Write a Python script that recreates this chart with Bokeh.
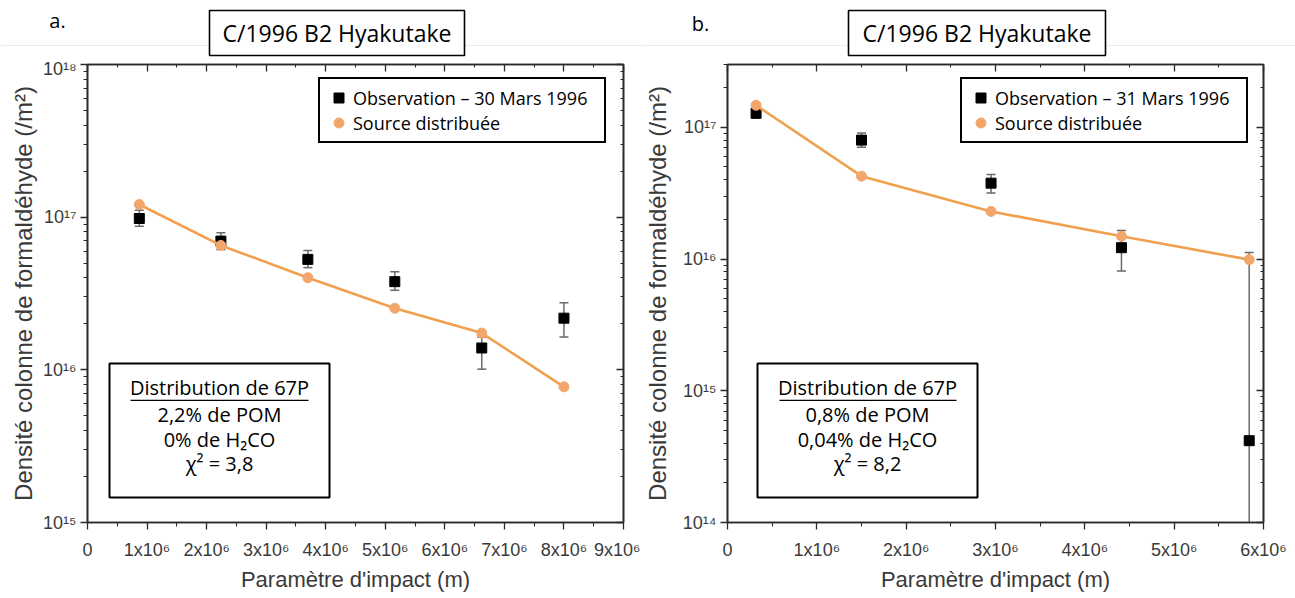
from bokeh.plotting import figure
from bokeh.layouts import row, column
from bokeh.models import (LinearAxis, LogAxis, FixedTicker, Legend, LegendItem, Label,
                          BoxAnnotation, ColumnDataSource, Span)
from bokeh.embed import file_html
from bokeh.resources import INLINE

# ---------------- shared texts ----------------
TITLE = "C/1996 B2 Hyakutake"
X_LABEL = "Paramètre d'impact (m)"
Y_LABEL = "Densité colonne de formaldéhyde (/m²)"
MODEL_NAME = "Source distribuée"

# ---------------- panel a : 30 Mars 1996 ----------------
a_panel_tag = "a."
a_obs_name = "Observation – 30 Mars 1996"
a_x = [0.87e6, 2.24e6, 3.70e6, 5.16e6, 6.62e6, 8.00e6]
a_obs = [9.8e16, 6.97e16, 5.29e16, 3.78e16, 1.39e16, 2.18e16]
a_obs_hi = [1.11e17, 7.9e16, 6.05e16, 4.39e16, 1.64e16, 2.75e16]
a_obs_lo = [8.73e16, 6.15e16, 4.67e16, 3.32e16, 1.01e16, 1.64e16]
a_model = [1.21e17, 6.53e16, 4.01e16, 2.53e16, 1.74e16, 7.74e15]
a_x_ticks = [0.0, 1e6, 2e6, 3e6, 4e6, 5e6, 6e6, 7e6, 8e6, 9e6]
a_x_tick_labels = ["0", "1x10⁶", "2x10⁶", "3x10⁶", "4x10⁶", "5x10⁶", "6x10⁶", "7x10⁶", "8x10⁶", "9x10⁶"]
a_y_ticks = [1e15, 1e16, 1e17, 1e18]
a_y_tick_labels = ["10¹⁵", "10¹⁶", "10¹⁷", "10¹⁸"]
a_box_lines = ["Distribution de 67P", "2,2% de POM", "0% de H₂CO", "χ² = 3,8"]

# ---------------- panel b : 31 Mars 1996 ----------------
b_panel_tag = "b."
b_obs_name = "Observation – 31 Mars 1996"
b_x = [0.32e6, 1.50e6, 2.95e6, 4.41e6, 5.84e6]
b_obs = [1.28e17, 8.0e16, 3.77e16, 1.22e16, 4.18e14]
b_obs_hi = [1.38e17, 9.06e16, 4.38e16, 1.65e16, 1.12e16]
b_obs_lo = [1.17e17, 7.05e16, 3.18e16, 8.1e15, 1e12]
b_model = [1.47e17, 4.26e16, 2.30e16, 1.49e16, 9.9e15]
b_x_ticks = [0.0, 1e6, 2e6, 3e6, 4e6, 5e6, 6e6]
b_x_tick_labels = ["0", "1x10⁶", "2x10⁶", "3x10⁶", "4x10⁶", "5x10⁶", "6x10⁶"]
b_y_ticks = [1e14, 1e15, 1e16, 1e17]
b_y_tick_labels = ["10¹⁴", "10¹⁵", "10¹⁶", "10¹⁷"]
b_box_lines = ["Distribution de 67P", "0,8% de POM", "0,04% de H₂CO", "χ² = 8,2"]

ORANGE_LINE = "#F0A04E"
ORANGE_DOT = "#F3A66C"
ERR = "#6a6a6a"
AX = "#2a2a2a"
TXT = "#3a3a3a"
SANS = "Liberation Sans"
CAL = "Open Sans"

HEADER_H = 58
PANEL_H = 540


def minor_between(ticks, steps):
    out = []
    for i in range(len(ticks) - 1):
        a, b = ticks[i], ticks[i + 1]
        for k in range(1, steps):
            out.append(a + (b - a) * k / steps)
    return out


def log_minor(ticks):
    out = []
    for t in ticks[:-1]:
        for m in range(2, 10):
            out.append(t * m)
    return out


def style_axis(ax, ticker, overrides=None, tick_in=False):
    ax.ticker = ticker
    ax.axis_line_color = AX
    ax.axis_line_width = 1.6
    ax.major_tick_line_color = AX
    ax.minor_tick_line_color = AX
    ax.major_tick_line_width = 1.3
    ax.minor_tick_line_width = 1.1
    if tick_in:
        ax.major_tick_in = 7
        ax.major_tick_out = 0
        ax.minor_tick_in = 3
        ax.minor_tick_out = 0
        ax.major_label_text_alpha = 0
        ax.major_label_text_font_size = "1px"
        ax.major_label_standoff = 0
    else:
        ax.major_tick_in = 0
        ax.major_tick_out = 7
        ax.minor_tick_in = 0
        ax.minor_tick_out = 4
        ax.major_label_text_font = SANS
        ax.major_label_text_font_size = "18px"
        ax.major_label_text_color = TXT
        if overrides:
            ax.major_label_overrides = overrides


def make_header(width, box_lr, tag, tag_x, tag_y):
    h = figure(width=width, height=HEADER_H, x_range=(0, width), y_range=(0, HEADER_H),
               x_axis_type=None, y_axis_type=None, output_backend="svg",
               toolbar_location=None, min_border=0)
    h.grid.visible = False
    h.outline_line_color = None
    h.background_fill_color = "white"
    h.border_fill_color = "white"
    h.add_layout(Span(location=13, dimension="width", line_color="#ececec", line_width=1))
    bl, br = box_lr
    h.add_layout(BoxAnnotation(left=bl, right=br, bottom=HEADER_H - 55, top=HEADER_H - 10,
                               left_units="screen", right_units="screen",
                               bottom_units="screen", top_units="screen",
                               fill_color="white", fill_alpha=1,
                               line_color="black", line_width=1.6, line_alpha=1))
    h.add_layout(Label(x=(bl + br) / 2, y=HEADER_H - 32.5, x_units="screen", y_units="screen",
                       text=TITLE, text_align="center", text_baseline="middle",
                       text_font=CAL, text_font_size="23px", text_color="black"))
    h.add_layout(Label(x=tag_x, y=HEADER_H - tag_y, x_units="screen", y_units="screen",
                       text=tag, text_align="center", text_baseline="middle",
                       text_font=CAL, text_font_size="20px", text_color="black"))
    return h


def make_panel(width, min_right, xr, yr, xs, obs, hi, lo, model, xt, xtl, yt, ytl,
               obs_name, box_lines, ylab_standoff, legend_x, box_lr, underline_lr):
    p = figure(width=width, height=PANEL_H, x_range=xr, y_range=yr, y_axis_type="log",
               output_backend="svg", toolbar_location=None,
               min_border_left=87, min_border_right=min_right,
               min_border_top=6, min_border_bottom=76)
    p.xgrid.visible = False
    p.ygrid.visible = False
    p.outline_line_color = AX
    p.outline_line_width = 1.6
    p.background_fill_color = "white"
    p.border_fill_color = "white"

    xticker = FixedTicker(ticks=xt, minor_ticks=minor_between(xt, 2))
    yticker = FixedTicker(ticks=yt, minor_ticks=log_minor(yt + [yt[-1] * 10]))

    xa = p.xaxis[0]
    style_axis(xa, xticker, dict(zip(xt, xtl)))
    xa.major_label_standoff = 10
    xa.axis_label = X_LABEL
    xa.axis_label_text_font = SANS
    xa.axis_label_text_font_size = "22px"
    xa.axis_label_text_font_style = "normal"
    xa.axis_label_text_color = TXT
    xa.axis_label_standoff = 4

    ya = p.yaxis[0]
    style_axis(ya, yticker, dict(zip(yt, ytl)))
    ya.major_label_standoff = 4
    ya.axis_label = Y_LABEL
    ya.axis_label_text_font = SANS
    ya.axis_label_text_font_size = "24px"
    ya.axis_label_text_font_style = "normal"
    ya.axis_label_text_color = TXT
    ya.axis_label_standoff = ylab_standoff

    top = LinearAxis()
    style_axis(top, xticker, tick_in=True)
    p.add_layout(top, "above")
    right = LogAxis()
    style_axis(right, yticker, tick_in=True)
    p.add_layout(right, "right")

    src = ColumnDataSource(dict(x=xs, obs=obs, hi=hi, lo=lo, model=model))
    p.segment(x0="x", y0="lo", x1="x", y1="hi", source=src, line_color=ERR, line_width=1.5)
    p.scatter(x="x", y="hi", source=src, marker="dash", size=9, line_color=ERR, line_width=1.5)
    p.scatter(x="x", y="lo", source=src, marker="dash", size=9, line_color=ERR, line_width=1.5)
    r_obs = p.scatter(x="x", y="obs", source=src, marker="square", size=10,
                      fill_color="black", line_color="black")
    p.line(x="x", y="model", source=src, line_color=ORANGE_LINE, line_width=2.6)
    r_mod = p.scatter(x="x", y="model", source=src, marker="circle", size=10,
                      fill_color=ORANGE_DOT, line_color=ORANGE_DOT)

    legend = Legend(items=[LegendItem(label=obs_name, renderers=[r_obs]),
                           LegendItem(label=MODEL_NAME, renderers=[r_mod])],
                    location=(legend_x, 379))
    legend.border_line_color = "black"
    legend.border_line_alpha = 1
    legend.border_line_width = 2
    legend.background_fill_color = "white"
    legend.background_fill_alpha = 1
    legend.padding = 6
    legend.spacing = 0
    legend.margin = 0
    legend.glyph_width = 25
    legend.glyph_height = 25
    legend.label_height = 25
    legend.label_width = 245
    legend.label_standoff = 2
    legend.label_text_font = CAL
    legend.label_text_font_size = "18px"
    legend.label_text_color = "black"
    p.add_layout(legend)

    # annotation box
    bl, br = box_lr
    p.add_layout(BoxAnnotation(left=bl, right=br, bottom=25, top=159,
                               left_units="screen", right_units="screen",
                               bottom_units="screen", top_units="screen",
                               fill_color="white", fill_alpha=1,
                               line_color="black", line_width=2, line_alpha=1))
    ul, ur = underline_lr
    p.add_layout(BoxAnnotation(left=ul, right=ur, bottom=121.4, top=122.7,
                               left_units="screen", right_units="screen",
                               bottom_units="screen", top_units="screen",
                               fill_color="black", fill_alpha=1, line_alpha=0))
    cx = (bl + br) / 2
    for txt, yy in zip(box_lines, [135, 108, 83, 59]):
        p.add_layout(Label(x=cx, y=yy, x_units="screen", y_units="screen", text=txt,
                           text_align="center", text_baseline="middle", text_font=CAL,
                           text_font_size="20px", text_color="black"))
    return p


ha = make_header(640, (209, 464), a_panel_tag, 57, 20)
hb = make_header(655, (208, 465), b_panel_tag, 60, 23)
pa = make_panel(640, 17, (0, 9e6), (1e15, 1e18), a_x, a_obs, a_obs_hi, a_obs_lo, a_model,
                a_x_ticks, a_x_tick_labels, a_y_ticks, a_y_tick_labels,
                a_obs_name, a_box_lines, 3, 231, (22, 242), (43, 221))
pb = make_panel(655, 32, (0, 6e6), (1e14, 3e17), b_x, b_obs, b_obs_hi, b_obs_lo, b_model,
                b_x_ticks, b_x_tick_labels, b_y_ticks, b_y_tick_labels,
                b_obs_name, b_box_lines, 9, 233, (30, 250), (52, 229))

layout = column(row(ha, hb), row(pa, pb))
open("out.html", "w").write(file_html(layout, INLINE))
